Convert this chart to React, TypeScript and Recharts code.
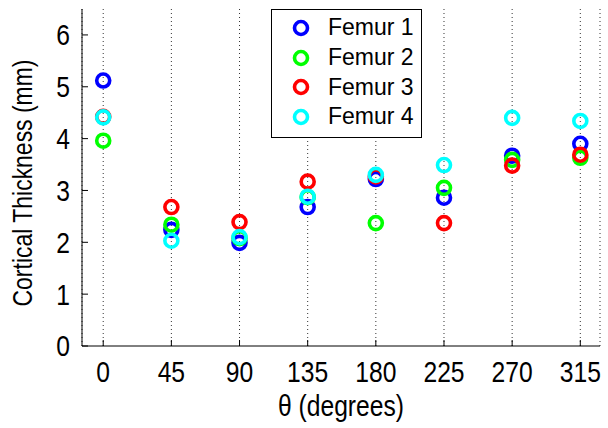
import { ScatterChart, Scatter, XAxis, YAxis, CartesianGrid, Legend, Label } from 'recharts';

const angles = [0, 45, 90, 135, 180, 225, 270, 315];
const femur1 = [5.12, 2.24, 1.99, 2.68, 3.22, 2.86, 3.67, 3.9];
const femur2 = [3.96, 2.34, 2.08, 2.87, 2.37, 3.05, 3.59, 3.63];
const femur3 = [4.42, 2.68, 2.39, 3.17, 3.27, 2.37, 3.48, 3.69];
const femur4 = [4.41, 2.03, 2.1, 2.88, 3.3, 3.49, 4.4, 4.34];
const yTicks = [0, 1, 2, 3, 4, 5, 6];

const seriesList = [
  { name: 'Femur 1', values: femur1, color: '#0000ff' },
  { name: 'Femur 2', values: femur2, color: '#00ff00' },
  { name: 'Femur 3', values: femur3, color: '#ff0000' },
  { name: 'Femur 4', values: femur4, color: '#00ffff' },
];

const font = "'Liberation Sans', Arial, sans-serif";
// the original uses a condensed face; squeeze Arial horizontally
const squeeze = 0.85;

const ring = (color: string) => (props: any) => (
  <circle cx={props.cx} cy={props.cy} r={6.5} fill="none" stroke={color} strokeWidth={3.6} />
);

const XTick = (props: any) => (
  <text
    transform={`translate(${props.x},${props.y}) scale(${squeeze},1)`}
    textAnchor="middle"
    dy="0.71em"
    fontSize={29}
    fontFamily={font}
    fill="#000"
  >
    {props.payload.value}
  </text>
);

const YTick = (props: any) => (
  <text
    transform={`translate(${props.x},${props.y}) scale(${squeeze},1)`}
    textAnchor="end"
    dy="0.36em"
    fontSize={29}
    fontFamily={font}
    fill="#000"
  >
    {props.payload.value}
  </text>
);

function LegendBox() {
  return (
    <div
      style={{
        width: 149,
        height: 124,
        border: '1px solid #000',
        background: '#fff',
        boxSizing: 'content-box',
        paddingTop: 3,
      }}
    >
      {seriesList.map((s) => (
        <div key={s.name} style={{ display: 'flex', alignItems: 'center', height: 29.7 }}>
          <svg width={56} height={20} style={{ flex: 'none' }}>
            <circle cx={29} cy={10} r={6.5} fill="none" stroke={s.color} strokeWidth={3.6} />
          </svg>
          <span style={{ fontFamily: font, fontSize: 23, color: '#000', lineHeight: 1 }}>{s.name}</span>
        </div>
      ))}
    </div>
  );
}

export default function App() {
  return (
    <div style={{ position: 'absolute', left: 0, top: 0, width: 608, height: 428, background: '#fff' }}>
      <ScatterChart width={608} height={428} margin={{ top: 9, right: 8, bottom: 0, left: 0 }}>
        <CartesianGrid horizontal={false} stroke="#333" strokeDasharray="1 3" />
        <XAxis
          type="number"
          dataKey="x"
          domain={[-14, 328]}
          ticks={angles}
          interval={0}
          height={82}
          tickSize={-6}
          tickMargin={21}
          stroke="#000"
          tick={<XTick />}
        >
          <Label
            content={() => (
              <text
                transform={`translate(341,416) scale(${squeeze},1)`}
                textAnchor="middle"
                fontSize={29}
                fontFamily={font}
                fill="#000"
              >
                θ (degrees)
              </text>
            )}
          />
        </XAxis>
        <XAxis
          xAxisId="top"
          orientation="top"
          type="number"
          domain={[-14, 328]}
          height={0}
          stroke="#000"
          tickLine={false}
          tick={() => <g />}
        />
        <YAxis
          type="number"
          dataKey="y"
          domain={[0, 6.5]}
          ticks={yTicks}
          interval={0}
          width={82}
          tickSize={-6}
          tickMargin={18}
          stroke="#000"
          tick={<YTick />}
        >
          <Label
            content={() => (
              <text
                transform={`translate(32,183) rotate(-90) scale(0.82,1)`}
                textAnchor="middle"
                fontSize={28}
                fontFamily={font}
                fill="#000"
              >
                Cortical Thickness (mm)
              </text>
            )}
          />
        </YAxis>
        <YAxis
          yAxisId="right"
          orientation="right"
          type="number"
          domain={[0, 6.5]}
          ticks={yTicks}
          interval={0}
          width={0}
          tickSize={-6}
          stroke="#000"
          tick={() => <g />}
        />
        <Legend
          layout="vertical"
          align="center"
          verticalAlign="middle"
          content={() => <LegendBox />}
          wrapperStyle={{ position: 'absolute', left: 271, top: 9, width: 151, height: 128 }}
        />
        {seriesList.map((s) => (
          <Scatter
            key={s.name}
            name={s.name}
            data={angles.map((a, i) => ({ x: a, y: s.values[i] }))}
            shape={ring(s.color)}
            isAnimationActive={false}
          />
        ))}
      </ScatterChart>
    </div>
  );
}
